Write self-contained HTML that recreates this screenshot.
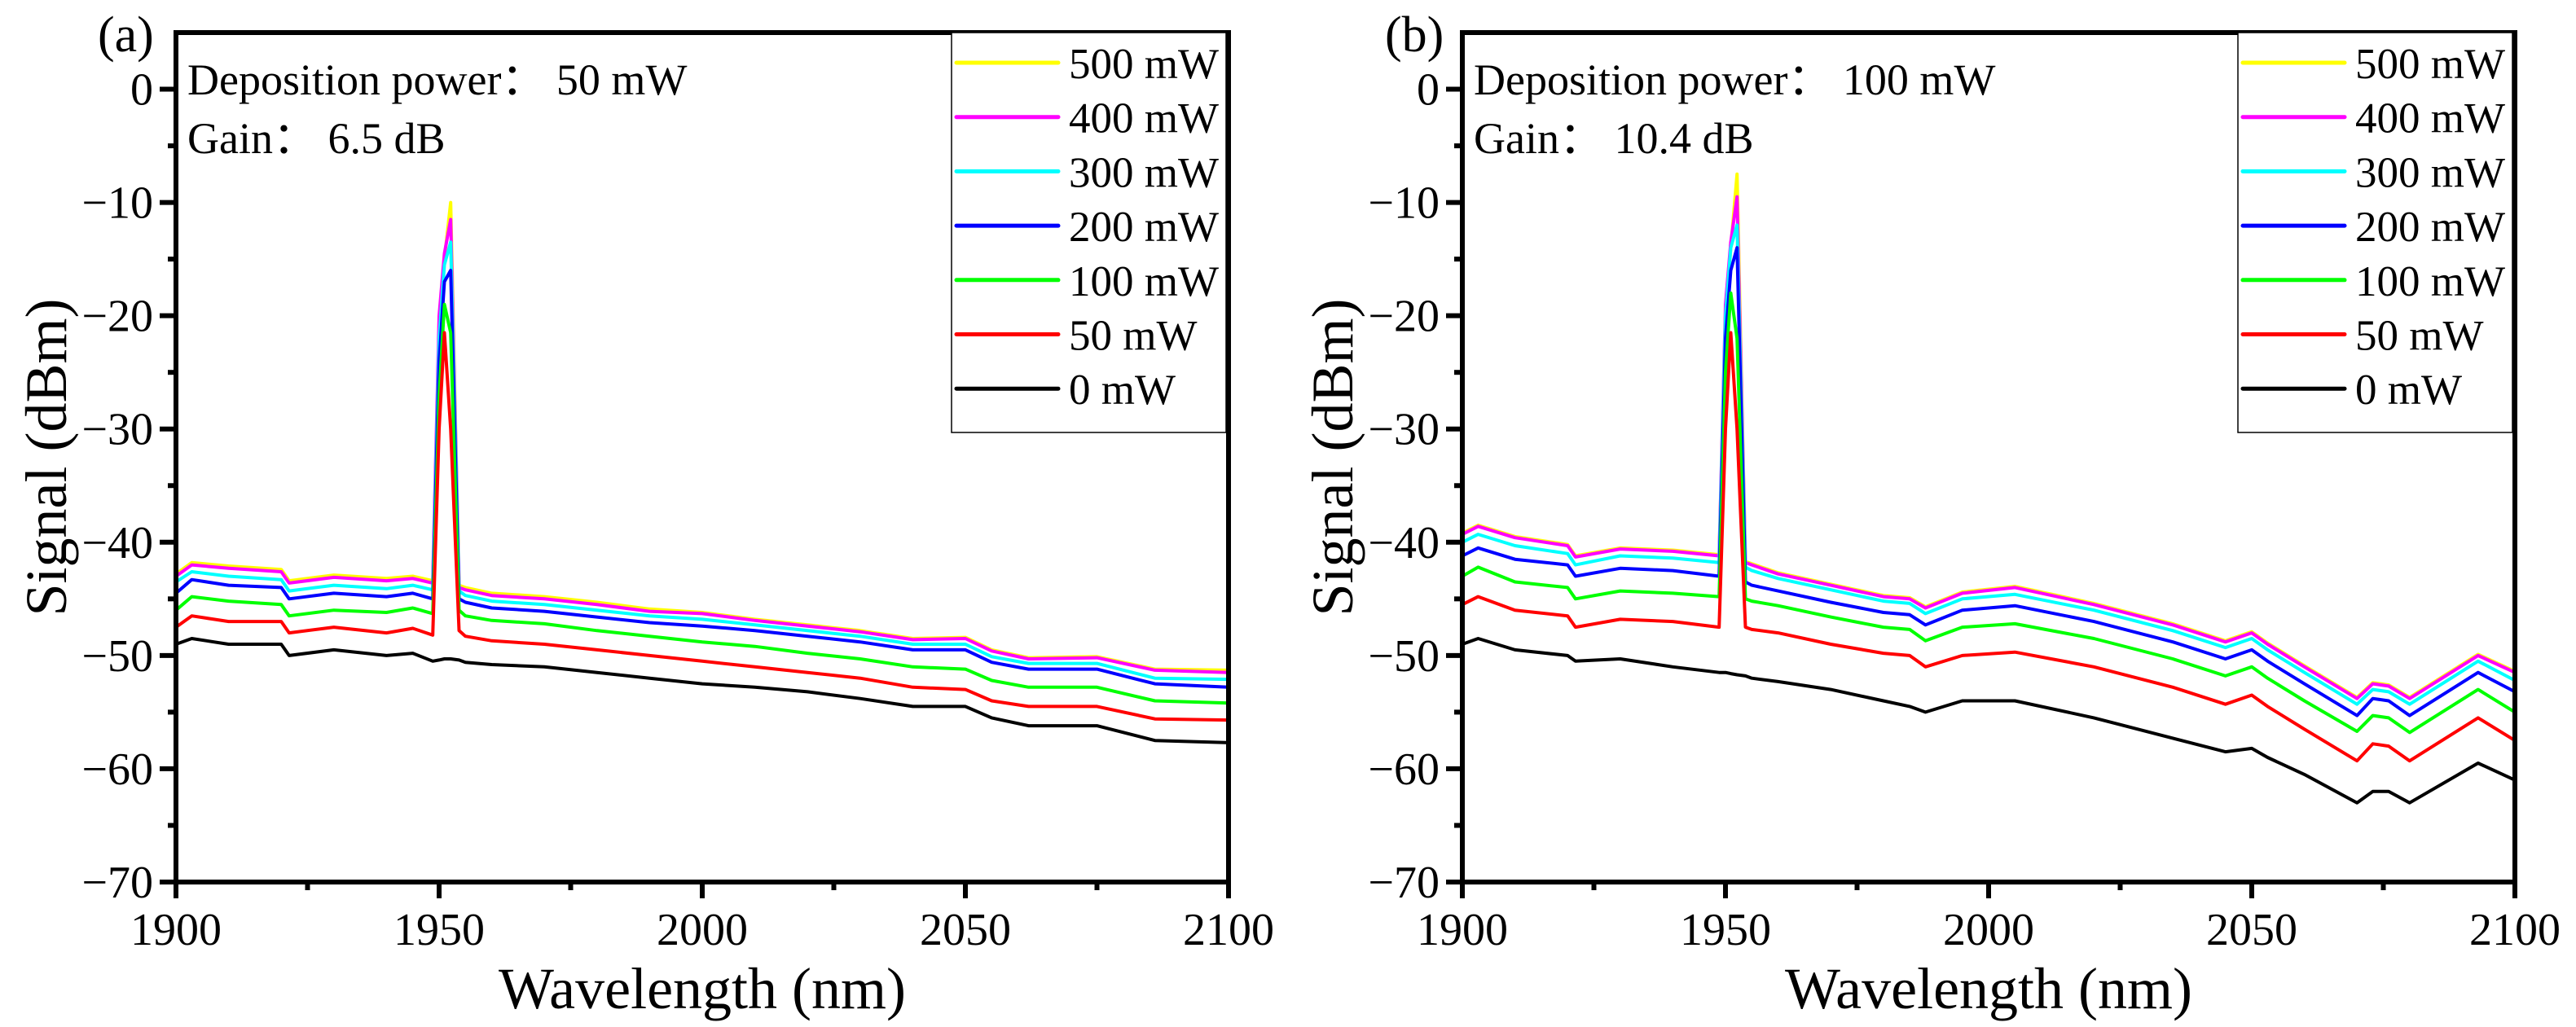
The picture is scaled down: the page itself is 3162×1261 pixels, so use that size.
<!DOCTYPE html>
<html><head><meta charset="utf-8"><style>
html,body{margin:0;padding:0;background:#fff}
svg{display:block;font-family:"Liberation Serif","Times New Roman",serif}
svg text{font-family:"Liberation Serif","Times New Roman",serif;fill:#000}
</style></head><body>
<svg id="chart" width="3162" height="1261" viewBox="0 0 3162 1261" font-family="Liberation Serif, serif"></svg>
<script>
const seriesNames = ["500 mW","400 mW","300 mW","200 mW","100 mW","50 mW","0 mW"];
const seriesColors = ["#ffff00","#ff00ff","#00ffff","#0000ff","#00ff00","#ff0000","#000000"];
const xTicks = [1900,1950,2000,2050,2100];
const yTicks = [0,-10,-20,-30,-40,-50,-60,-70];

const xA = [1900,1903,1910,1920,1921.5,1930,1940,1945,1948.8,1950,1951,1952.2,1953.8,1955,1960,1970,1980,1990,2000,2010,2020,2030,2040,2050,2055,2062,2075,2086,2100];
const yA500 = [-42.8,-41.8,-42.1,-42.4,-43.4,-42.9,-43.2,-43,-43.4,-22,-15,-10,-43.8,-44,-44.5,-44.8,-45.3,-45.9,-46.2,-46.8,-47.3,-47.8,-48.5,-48.4,-49.5,-50.2,-50.1,-51.2,-51.3];
const yA400 = [-43,-42,-42.3,-42.6,-43.6,-43.1,-43.4,-43.2,-43.6,-20,-14.5,-11.5,-44,-44.2,-44.7,-45,-45.5,-46.1,-46.3,-46.9,-47.4,-47.9,-48.6,-48.5,-49.6,-50.3,-50.2,-51.3,-51.5];
const yA300 = [-43.5,-42.6,-43,-43.3,-44.3,-43.8,-44.1,-43.8,-44.2,-22,-15.5,-13.5,-44.3,-44.7,-45.2,-45.5,-46,-46.5,-46.8,-47.3,-47.8,-48.3,-49,-49,-50.1,-50.7,-50.7,-52,-52.1];
const yA200 = [-44.5,-43.3,-43.8,-44,-45,-44.5,-44.8,-44.5,-45,-24,-17,-16,-45,-45.3,-45.8,-46.1,-46.6,-47.1,-47.4,-47.8,-48.3,-48.8,-49.5,-49.5,-50.6,-51.2,-51.2,-52.5,-52.8];
const yA100 = [-46,-44.8,-45.2,-45.5,-46.5,-46,-46.2,-45.8,-46.3,-27,-19,-21.5,-46,-46.5,-46.9,-47.2,-47.8,-48.3,-48.8,-49.2,-49.8,-50.3,-51,-51.2,-52.2,-52.8,-52.8,-54,-54.2];
const yA50 = [-47.5,-46.5,-47,-47,-48,-47.5,-48,-47.6,-48.2,-30,-21.5,-30,-47.8,-48.3,-48.7,-49,-49.5,-50,-50.5,-51,-51.5,-52,-52.8,-53,-54,-54.5,-54.5,-55.6,-55.7];
const yA0 = [-49,-48.5,-49,-49,-50,-49.5,-50,-49.8,-50.5,-50.4,-50.3,-50.3,-50.4,-50.6,-50.8,-51,-51.5,-52,-52.5,-52.8,-53.2,-53.8,-54.5,-54.5,-55.5,-56.2,-56.2,-57.5,-57.7];

const xB = [1900,1903,1910,1920,1921.5,1930,1940,1948.8,1950,1951,1952.2,1953.8,1955,1960,1970,1980,1985,1988,1995,2005,2020,2035,2045,2050,2053,2060,2070,2073,2076,2080,2093,2100];
const yB500 = [-39.2,-38.5,-39.5,-40.2,-41.2,-40.5,-40.7,-41.1,-20,-14,-7.5,-41.7,-41.9,-42.7,-43.7,-44.7,-44.9,-45.7,-44.4,-43.9,-45.4,-47.2,-48.7,-47.9,-48.9,-50.9,-53.7,-52.4,-52.6,-53.7,-49.9,-51.4];
const yB400 = [-39.3,-38.6,-39.6,-40.3,-41.3,-40.6,-40.8,-41.2,-19,-13.5,-9.5,-41.8,-42,-42.8,-43.8,-44.8,-45,-45.8,-44.5,-44,-45.5,-47.3,-48.8,-48,-49,-51,-53.8,-52.5,-52.7,-53.8,-50,-51.5];
const yB300 = [-40,-39.3,-40.3,-41,-42,-41.2,-41.4,-41.8,-20,-14,-12,-42.2,-42.5,-43.2,-44.2,-45.2,-45.4,-46.3,-45,-44.6,-46,-47.8,-49.3,-48.5,-49.5,-51.5,-54.3,-53,-53.2,-54.3,-50.5,-52.2];
const yB200 = [-41.2,-40.5,-41.5,-42,-43,-42.3,-42.5,-43,-22,-16,-14,-43.5,-43.8,-44.3,-45.3,-46.2,-46.4,-47.3,-46,-45.6,-47,-48.8,-50.3,-49.5,-50.5,-52.5,-55.3,-53.8,-54,-55.3,-51.5,-53.2];
const yB100 = [-43,-42.2,-43.5,-44,-45,-44.3,-44.5,-44.8,-25,-18,-22,-45,-45.2,-45.6,-46.6,-47.5,-47.7,-48.7,-47.5,-47.2,-48.5,-50.3,-51.8,-51,-52,-54,-56.7,-55.3,-55.5,-56.8,-53,-55];
const yB50 = [-45.5,-44.8,-46,-46.5,-47.5,-46.8,-47,-47.5,-30,-21.5,-30,-47.5,-47.7,-48,-49,-49.8,-50,-51,-50,-49.7,-51,-52.8,-54.3,-53.5,-54.5,-56.5,-59.3,-57.8,-58,-59.3,-55.5,-57.5];
const yB0 = [-49,-48.5,-49.5,-50,-50.5,-50.3,-51,-51.5,-51.5,-51.6,-51.7,-51.8,-52,-52.3,-53,-54,-54.5,-55,-54,-54,-55.5,-57.3,-58.5,-58.2,-59,-60.5,-63,-62,-62,-63,-59.5,-61];

const NS = "http://www.w3.org/2000/svg";
const svg = document.getElementById("chart");
const FONT = '"Liberation Serif", "Times New Roman", serif';
function mk(tag, attrs, parent){const e=document.createElementNS(NS,tag);for(const k in attrs)e.setAttribute(k,attrs[k]);if(tag==="text"){e.setAttribute("font-family",FONT);e.style.fontFamily=FONT;}(parent||svg).appendChild(e);return e;}

const panels = [
  {id:"a", left:216, label:"(a)", labelX:120, xs:xA, ys:[yA500,yA400,yA300,yA200,yA100,yA50,yA0], dep:"Deposition power：  50 mW", gain:"Gain：  6.5 dB"},
  {id:"b", left:1795, label:"(b)", labelX:1700, xs:xB, ys:[yB500,yB400,yB300,yB200,yB100,yB50,yB0], dep:"Deposition power：  100 mW", gain:"Gain：  10.4 dB"}
];
const W = 1292, TOP = 40, BOT = 1083;
const xMin=1900,xMax=2100,yMin=-70,yMax=5;

panels.forEach(p=>{
  const g = mk("g",{});
  
  
  const L=p.left, R=p.left+W;
  const sx = v => L + (v-xMin)/(xMax-xMin)*W;
  const sy = v => BOT - (v-yMin)/(yMax-yMin)*(BOT-TOP);
  for(let s=0;s<p.ys.length;s++){
    const pts = p.xs.map((x,i)=>sx(x).toFixed(1)+","+sy(p.ys[s][i]).toFixed(1)).join(" ");
    const pl = mk("polyline",{points:pts,fill:"none",stroke:seriesColors[s],"stroke-width":4,"stroke-linejoin":"round"},g);
    
    
  }
  const fr = mk("rect",{x:L,y:TOP,width:W,height:BOT-TOP,fill:"none",stroke:"#000","stroke-width":6},g);
  
  
  for(let v=1900; v<=2100; v+=25){
    const major = v%50===0;
    mk("line",{x1:sx(v),x2:sx(v),y1:BOT,y2:BOT+(major?20:10),stroke:"#000","stroke-width":6},g);
  }
  xTicks.forEach(v=>{
    const t = mk("text",{x:sx(v),y:1160,"font-size":56,"text-anchor":"middle"},g);
    t.textContent=v;
    
    
  });
  for(let v=-70; v<=0; v+=5){
    const major = v%10===0;
    mk("line",{x1:L-(major?20:10),x2:L,y1:sy(v),y2:sy(v),stroke:"#000","stroke-width":6},g);
  }
  yTicks.forEach(v=>{
    const t = mk("text",{x:L-28,y:sy(v)+19,"font-size":56,"text-anchor":"end"},g);
    t.textContent = v<0 ? "\u2212"+(-v) : v;
    
    
  });
  const xt = mk("text",{x:L+W/2,y:1238,"font-size":72,"text-anchor":"middle"},g);
  xt.textContent="Wavelength (nm)";
  
  
  const cy = (TOP+BOT)/2;
  const yt = mk("text",{x:L-160,y:cy,"font-size":72,"text-anchor":"middle",transform:"rotate(-90 "+(L-160)+" "+cy+")"},g);
  yt.setAttribute("dy","0.35em");
  yt.textContent="Signal (dBm)";
  
  
  const pl = mk("text",{x:p.labelX,y:63,"font-size":62},g);
  pl.textContent=p.label;
  
  
  const d = mk("text",{x:L+14,y:116,"font-size":54,"xml:space":"preserve"},g);
  d.textContent=p.dep;
  
  
  const gn = mk("text",{x:L+14,y:188,"font-size":54},g);
  gn.textContent=p.gain;
  
  
  const lg = mk("g",{},g);
  
  
  const lx = L+952;
  mk("rect",{x:lx,y:TOP,width:R-3-lx,height:491,fill:"#fff",stroke:"#000","stroke-width":1.5},lg);
  seriesNames.forEach((n,i)=>{
    const yy = 77 + i*66.7;
    const e = mk("g",{},lg);
    
    
    mk("line",{x1:lx+6,x2:lx+131,y1:yy,y2:yy,stroke:seriesColors[i],"stroke-width":5,"stroke-linecap":"round"},e);
    const t = mk("text",{x:lx+144,y:yy+19,"font-size":53},e);
    t.textContent=n;
  });
});
</script>
</body></html>
